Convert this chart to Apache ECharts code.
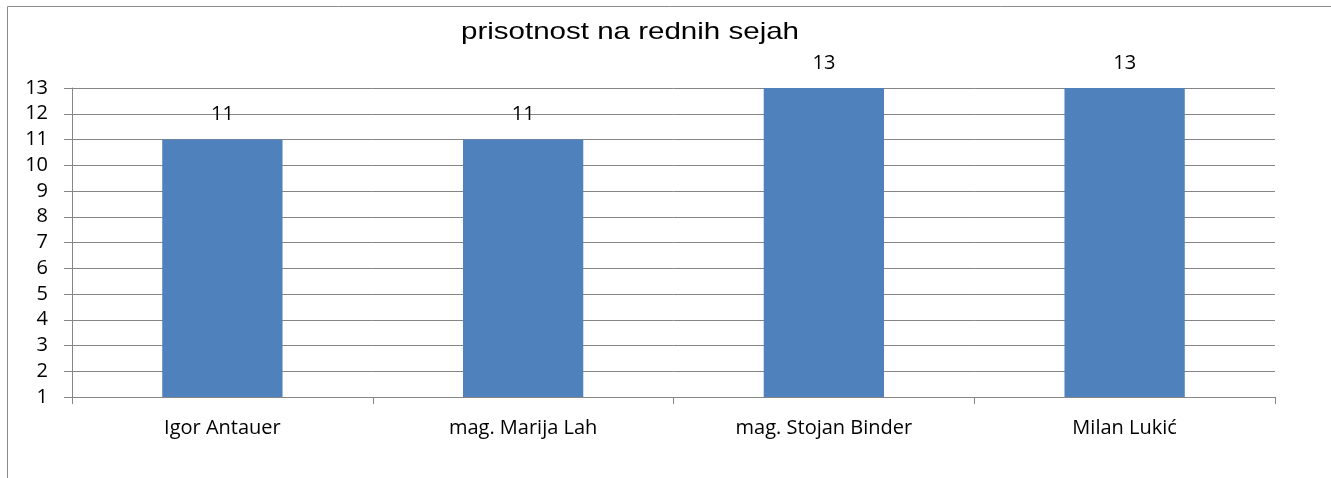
<!DOCTYPE html>
<html>
<head>
<meta charset="utf-8">
<script src="https://cdn.jsdelivr.net/npm/echarts@6/dist/echarts.min.js"></script>
<style>
  html, body { margin: 0; padding: 0; background: #fff; }
  #chart { width: 1331px; height: 478px; }
</style>
</head>
<body>
<div id="chart"></div>
<script>
const titleText = "prisotnost na rednih sejah";
const categories = ["Igor Antauer", "mag. Marija Lah", "mag. Stojan Binder", "Milan Lukić"];
const values = [11, 11, 13, 13];

const chart = echarts.init(document.getElementById("chart"));

const labelFont = {
  fontFamily: "Open Sans",
  fontSize: 20,
  color: "#000"
};

chart.setOption({
  animation: false,
  graphic: [
    // frame, only the left and top edges show
    {
      type: "polyline",
      shape: { points: [[7.5, 478], [7.5, 6.5], [1331, 6.5]] },
      style: { stroke: "#8c8c8c", lineWidth: 1, fill: null }
    },
    // title is drawn a little wider than normal, like the original
    {
      type: "text",
      x: 630,
      y: 32,
      scaleX: 1.23,
      style: {
        text: titleText,
        font: "24px 'Liberation Sans'",
        fill: "#000",
        align: "center",
        verticalAlign: "middle"
      }
    }
  ],
  grid: {
    left: 72,
    right: 56,
    top: 88,
    bottom: 81
  },
  xAxis: {
    type: "category",
    data: categories,
    axisLine: { lineStyle: { color: "#868686", width: 1 } },
    axisTick: { show: true, length: 7, interval: 0, lineStyle: { color: "#868686" } },
    axisLabel: Object.assign({ margin: 21 }, labelFont)
  },
  yAxis: {
    type: "value",
    min: 1,
    max: 13,
    interval: 1,
    axisLine: { show: true, lineStyle: { color: "#868686", width: 1 } },
    axisTick: { show: true, length: 8, lineStyle: { color: "#868686" } },
    splitLine: { lineStyle: { color: "#868686", width: 1 } },
    axisLabel: Object.assign({ margin: 24 }, labelFont)
  },
  series: [
    {
      type: "bar",
      data: values,
      barWidth: "40%",
      itemStyle: { color: "#4f81bd" },
      label: Object.assign({ show: true, position: "top", distance: 15 }, labelFont)
    }
  ]
});
</script>
</body>
</html>
